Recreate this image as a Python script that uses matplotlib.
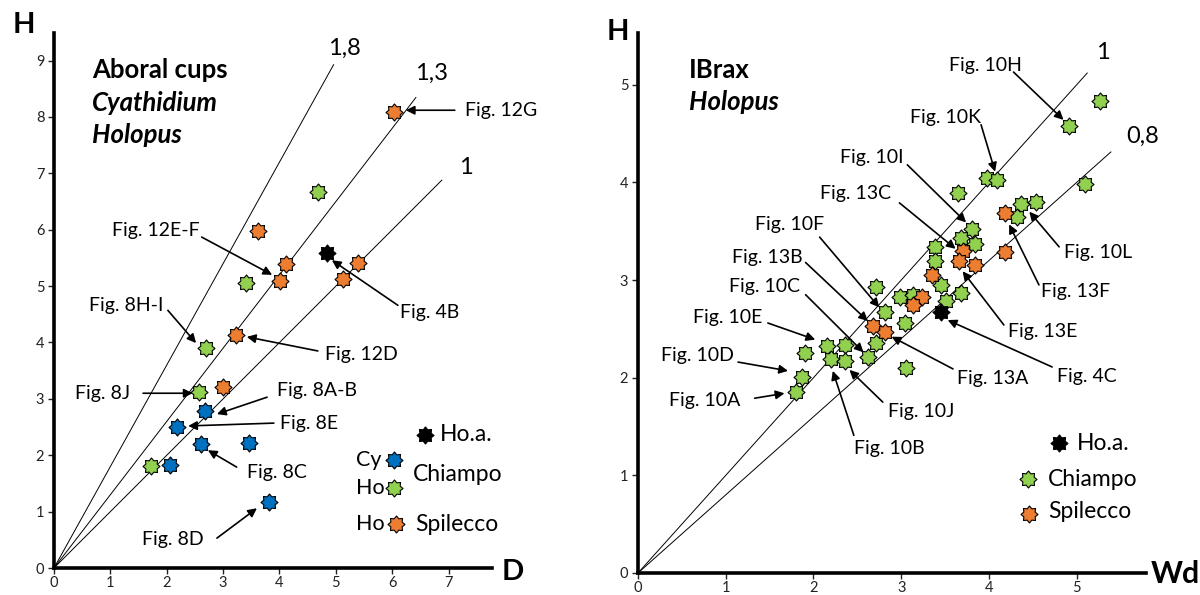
import numpy as np
import matplotlib
matplotlib.use("Agg")
import matplotlib.pyplot as plt
from matplotlib.path import Path

plt.rcParams['font.family'] = ['Lato', 'DejaVu Sans']

# ---------------- data: left panel (Aboral cups, D vs H) ----------------
cy_chiampo_d = [2.67, 2.19, 2.61, 3.46, 2.06, 3.82]
cy_chiampo_h = [2.79, 2.50, 2.20, 2.22, 1.83, 1.17]
ho_chiampo_d = [4.68, 3.40, 2.70, 2.58, 1.72]
ho_chiampo_h = [6.67, 5.05, 3.90, 3.12, 1.81]
ho_spilecco_d = [6.03, 3.62, 4.11, 5.39, 4.01, 5.13, 3.23, 2.99]
ho_spilecco_h = [8.09, 5.98, 5.39, 5.41, 5.09, 5.12, 4.13, 3.21]
hoa_left_d = [4.84]
hoa_left_h = [5.58]
left_slopes = [1.8, 1.3, 1.0]
left_slope_labels = ["1,8", "1,3", "1"]
left_xticks = [0, 1, 2, 3, 4, 5, 6, 7]
left_yticks = [0, 1, 2, 3, 4, 5, 6, 7, 8, 9]

# ---------------- data: right panel (IBrax, Wd vs H) ----------------
chiampo_wd = [4.91, 5.27, 5.09, 3.98, 4.09, 3.65, 4.36, 4.54, 4.32, 3.81, 3.68, 3.84,
              3.38, 3.38, 3.45, 2.71, 3.68, 2.99, 3.14, 3.51, 2.81, 3.04, 2.71, 2.15,
              2.36, 1.90, 2.62, 2.20, 2.36, 3.06, 1.87, 1.80]
chiampo_h = [4.58, 4.83, 3.98, 4.04, 4.02, 3.89, 3.78, 3.80, 3.65, 3.52, 3.43, 3.37,
             3.34, 3.19, 2.95, 2.93, 2.87, 2.83, 2.85, 2.79, 2.67, 2.56, 2.36, 2.32,
             2.33, 2.25, 2.21, 2.19, 2.17, 2.10, 2.01, 1.85]
spilecco_wd = [4.18, 4.18, 3.70, 3.66, 3.84, 3.35, 3.24, 3.14, 2.68, 2.81]
spilecco_h = [3.69, 3.29, 3.30, 3.19, 3.15, 3.05, 2.83, 2.74, 2.53, 2.47]
hoa_right_wd = [3.45]
hoa_right_h = [2.67]
right_slopes = [1.0, 0.8]
right_slope_labels = ["1", "0,8"]
right_xticks = [0, 1, 2, 3, 4, 5]
right_yticks = [0, 1, 2, 3, 4, 5]

# ---------------- styling ----------------
BLUE = '#0070C0'
GREEN = '#92D050'
ORANGE = '#ED7D31'
BLACK = '#000000'


def star_path(n=8, ratio=0.72):
    ang = np.linspace(0, 2 * np.pi, 2 * n, endpoint=False) + np.pi / 2
    r = np.tile([1.0, ratio], n)
    v = np.column_stack([r * np.cos(ang), r * np.sin(ang)])
    v = np.vstack([v, v[0]])
    codes = [Path.MOVETO] + [Path.LINETO] * (len(v) - 2) + [Path.CLOSEPOLY]
    return Path(v, codes)


STAR = star_path()
MS = 150


def style_axes(ax, xmax, ymax, xticks, yticks):
    ax.set_xlim(0, xmax)
    ax.set_ylim(0, ymax)
    for s in ['top', 'right']:
        ax.spines[s].set_visible(False)
    for s in ['left', 'bottom']:
        ax.spines[s].set_linewidth(2.6)
    ax.set_xticks(xticks)
    ax.set_yticks(yticks)
    ax.tick_params(axis='both', direction='out', length=4, width=1.0,
                   labelsize=10.5, colors='#222222', pad=2)
    ax.tick_params(axis='y', pad=3)


def arrow(ax, tail, tip):
    ax.annotate('', xy=tip, xytext=tail,
                arrowprops=dict(arrowstyle='-|>', color='black', lw=1.2,
                                mutation_scale=13, shrinkA=0, shrinkB=0))


def pts(ax, x, y, color, zorder=3):
    ax.scatter(x, y, s=MS, marker=STAR, facecolors=color, edgecolors='black',
               linewidths=0.8, zorder=zorder)


fig = plt.figure(figsize=(12, 5.95), dpi=100)

FS_ANN = 14
FS_LEG = 16.5
FS_TITLE = 18.5

# ================= LEFT PANEL =================
axL = fig.add_axes([54 / 1200, 1 - 568 / 595, (492 - 54) / 1200, (568 - 33) / 595])
style_axes(axL, 7.77, 9.49, left_xticks, left_yticks)

left_line_ends = [4.96, 6.42, 6.88]
for sl, xe in zip(left_slopes, left_line_ends):
    xx = np.array([0, xe])
    axL.plot(xx, sl * xx, color='black', lw=0.7, zorder=1)
for lab, pos in zip(left_slope_labels, [(5.16, 9.22), (6.70, 8.78), (7.30, 7.11)]):
    axL.text(pos[0], pos[1], lab, fontsize=17, ha='center', va='center')

pts(axL, cy_chiampo_d, cy_chiampo_h, BLUE)
pts(axL, ho_chiampo_d, ho_chiampo_h, GREEN)
pts(axL, ho_spilecco_d, ho_spilecco_h, ORANGE)
pts(axL, hoa_left_d, hoa_left_h, BLACK)

axL.text(0.67, 8.83, 'Aboral cups', fontsize=FS_TITLE, fontweight='bold', va='center')
axL.text(0.67, 8.24, 'Cyathidium', fontsize=FS_TITLE, fontweight='bold', style='italic', va='center')
axL.text(0.67, 7.68, 'Holopus', fontsize=FS_TITLE, fontweight='bold', style='italic', va='center')

left_ann = [
    ('Fig. 12G', (7.29, 8.12), (7.11, 8.12), (6.24, 8.12)),
    ('Fig. 12E-F', (1.03, 5.99), (2.62, 5.87), (3.87, 5.20)),
    ('Fig. 4B', (6.13, 4.54), (6.10, 4.66), (4.93, 5.46)),
    ('Fig. 8H-I', (0.62, 4.66), (2.02, 4.57), (2.52, 3.99)),
    ('Fig. 12D', (4.80, 3.78), (4.68, 3.85), (3.42, 4.10)),
    ('Fig. 8J', (0.37, 3.10), (1.58, 3.10), (2.46, 3.10)),
    ('Fig. 8A-B', (3.95, 3.14), (3.78, 3.03), (2.89, 2.73)),
    ('Fig. 8E', (4.01, 2.57), (3.90, 2.57), (2.38, 2.52)),
    ('Fig. 8C', (3.42, 1.70), (3.24, 1.79), (2.73, 2.09)),
    ('Fig. 8D', (1.56, 0.51), (2.89, 0.53), (3.60, 1.06)),
]
for lab, tpos, tail, tip in left_ann:
    axL.text(tpos[0], tpos[1], lab, fontsize=FS_ANN, ha='left', va='center', clip_on=False)
    arrow(axL, tail, tip)

# legend (left)
pts(axL, [6.58], [2.36], BLACK)
axL.text(6.84, 2.36, 'Ho.a.', fontsize=FS_LEG, va='center')
pts(axL, [6.03], [1.91], BLUE)
axL.text(5.36, 1.91, 'Cy', fontsize=FS_LEG - 1, va='center')
pts(axL, [6.03], [1.42], GREEN)
axL.text(5.36, 1.42, 'Ho', fontsize=FS_LEG - 1, va='center')
axL.text(6.37, 1.66, 'Chiampo', fontsize=FS_LEG, va='center')
pts(axL, [6.06], [0.78], ORANGE)
axL.text(5.36, 0.78, 'Ho', fontsize=FS_LEG - 1, va='center')
axL.text(6.40, 0.78, 'Spilecco', fontsize=FS_LEG, va='center')

fig.text(13 / 1200, 1 - 25 / 595, 'H', fontsize=21, fontweight='bold', va='center')
fig.text(502 / 1200, 1 - 572 / 595, 'D', fontsize=21, fontweight='bold', va='center')

# ================= RIGHT PANEL =================
axR = fig.add_axes([638 / 1200, 1 - 573 / 595, (1146 - 638) / 1200, (573 - 33) / 595])
style_axes(axR, 5.79, 5.53, right_xticks, right_yticks)

right_line_ends = [5.12, 5.39]
for sl, xe in zip(right_slopes, right_line_ends):
    xx = np.array([0, xe])
    axR.plot(xx, sl * xx, color='black', lw=0.7, zorder=1)
for lab, pos in zip(right_slope_labels, [(5.30, 5.33), (5.75, 4.47)]):
    axR.text(pos[0], pos[1], lab, fontsize=17, ha='center', va='center', clip_on=False)

pts(axR, chiampo_wd, chiampo_h, GREEN)
pts(axR, spilecco_wd, spilecco_h, ORANGE)
pts(axR, hoa_right_wd, hoa_right_h, BLACK)

axR.text(0.58, 5.15, 'IBrax', fontsize=FS_TITLE, fontweight='bold', va='center')
axR.text(0.58, 4.82, 'Holopus', fontsize=FS_TITLE, fontweight='bold', style='italic', va='center')

right_ann = [
    ('Fig. 10H', (3.54, 5.20), (4.28, 5.13), (4.85, 4.64)),
    ('Fig. 10K', (3.10, 4.66), (3.91, 4.59), (4.07, 4.11)),
    ('Fig. 10I', (2.30, 4.26), (3.07, 4.18), (3.74, 3.59)),
    ('Fig. 13C', (2.08, 3.89), (2.98, 3.79), (3.62, 3.32)),
    ('Fig. 10F', (1.33, 3.57), (2.07, 3.44), (2.75, 2.72)),
    ('Fig. 13B', (1.07, 3.23), (1.91, 3.18), (2.62, 2.58)),
    ('Fig. 10C', (1.04, 2.93), (1.91, 2.85), (2.57, 2.26)),
    ('Fig. 10L', (4.85, 3.28), (4.80, 3.34), (4.46, 3.70)),
    ('Fig. 13F', (4.59, 2.88), (4.57, 2.95), (4.23, 3.57)),
    ('Fig. 13E', (4.22, 2.47), (4.17, 2.54), (3.70, 3.09)),
    ('Fig. 4C', (4.78, 2.01), (4.72, 2.11), (3.53, 2.59)),
    ('Fig. 13A', (3.64, 1.99), (3.59, 2.09), (2.89, 2.42)),
    ('Fig. 10J', (2.85, 1.65), (2.79, 1.75), (2.41, 2.08)),
    ('Fig. 10B', (2.46, 1.28), (2.46, 1.41), (2.22, 2.07)),
    ('Fig. 10E', (0.63, 2.62), (1.48, 2.56), (2.02, 2.39)),
    ('Fig. 10D', (0.26, 2.23), (1.14, 2.16), (1.71, 2.07)),
    ('Fig. 10A', (0.35, 1.77), (1.33, 1.79), (1.67, 1.84)),
]
for lab, tpos, tail, tip in right_ann:
    axR.text(tpos[0], tpos[1], lab, fontsize=FS_ANN, ha='left', va='center', clip_on=False)
    arrow(axR, tail, tip)

# legend (right)
pts(axR, [4.80], [1.33], BLACK)
axR.text(5.00, 1.33, 'Ho.a.', fontsize=FS_LEG, va='center')
pts(axR, [4.44], [0.96], GREEN)
axR.text(4.67, 0.96, 'Chiampo', fontsize=FS_LEG, va='center')
pts(axR, [4.46], [0.60], ORANGE)
axR.text(4.68, 0.63, 'Spilecco', fontsize=FS_LEG, va='center')

fig.text(607 / 1200, 1 - 32 / 595, 'H', fontsize=21, fontweight='bold', va='center')
fig.text(1151 / 1200, 1 - 574 / 595, 'Wd', fontsize=22, fontweight='bold', va='center')

fig.savefig('out.png', dpi=100)
